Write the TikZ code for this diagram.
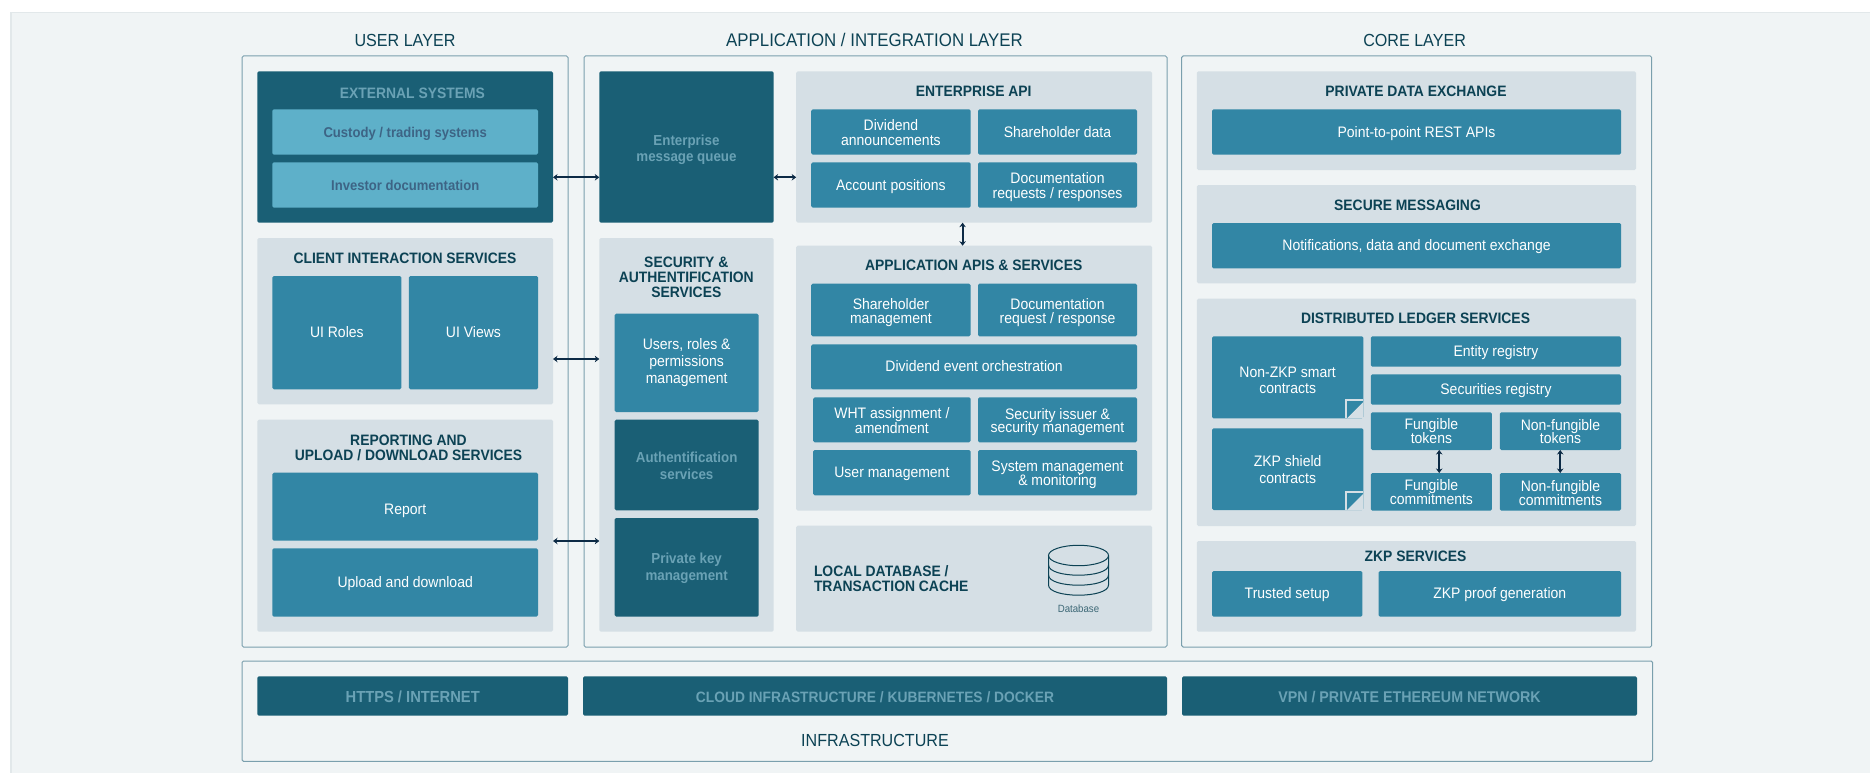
\documentclass[tikz,border=0pt]{standalone}
\usepackage{fontspec}
\setmainfont[FakeStretch=0.92]{Liberation Sans}
\usetikzlibrary{arrows.meta}
\definecolor{panelbg}{HTML}{F0F4F5}
\definecolor{panelline}{HTML}{E2E8EA}
\definecolor{layerline}{HTML}{7A9FAD}
\definecolor{groupgrey}{HTML}{D5DFE5}
\definecolor{midteal}{HTML}{3286A5}
\definecolor{darkteal}{HTML}{1A5F75}
\definecolor{lightteal}{HTML}{5EB0C9}
\definecolor{titleink}{HTML}{0C4254}
\definecolor{dimink}{HTML}{6AA2B5}
\definecolor{custink}{HTML}{3D6485}
\definecolor{arrowink}{HTML}{0C2A45}
\newcommand{\ls}[2]{\fontsize{#1}{#2}\selectfont\lineskiplimit=-100pt\relax}
\newcommand{\fl}[1]{\rule{0pt}{#1}}
\tikzset{
  x=1pt,y=-1pt,
  struts/.style={execute at begin node={\rule{0pt}{\dimexpr.74em+2pt\relax}},execute at end node={\rule[-.21em]{0pt}{.21em}}},
  lift/.style={execute at begin node={\rule{0pt}{#1}}},
  basebox/.style={rectangle,inner sep=0pt,outer sep=0pt,rounded corners=1.5pt,align=center,struts},
  layerbox/.style={basebox,draw=layerline,line width=1pt,fill=panelbg},
  groupbox/.style={basebox,fill=groupgrey},
  midbox/.style={basebox,fill=midteal,text=white,font=\ls{15.2}{15.2}},
  darkbox/.style={basebox,fill=darkteal,text=dimink,font=\bfseries\ls{14.5}{17},lift=14.7pt},
  lightbox/.style={basebox,fill=lightteal,text=custink,font=\bfseries\ls{14.2}{16},lift=14.5pt},
  barbox/.style={basebox,fill=darkteal,text=dimink,font=\bfseries\ls{16}{18},lift=16.8pt},
  titletext/.style={inner sep=0pt,outer sep=0pt,align=center,struts,yshift=-.5pt,text=titleink,font=\bfseries\ls{15.1}{15}},
  layertext/.style={inner sep=0pt,outer sep=0pt,align=center,struts,yshift=-.7pt,text=titleink,font=\ls{17.5}{20}},
  dblink/.style={{Stealth[length=4.5pt,width=6.5pt]}-{Stealth[length=4.5pt,width=6.5pt]},line width=2.2pt,draw=arrowink},
  foldmark/.style={draw=groupgrey,line width=2pt},
  dbline/.style={draw=titleink,line width=1pt},
}
\newcommand{\bx}[7]{\node[#2,minimum width={(#5-#3)*1pt},minimum height={(#6-#4)*1pt}] (#1) at ({(#3+#5)/2},{(#4+#6)/2}) {#7};}
\newcommand{\foldcorner}[1]{%
  \fill[groupgrey] (#1.south east) -- ++(-16.3,0) -- ++(16.3,-16.3) -- cycle;
  \draw[foldmark] ([xshift=-17.3pt]#1.south east) -- ++(0,-18.3) -- ++(17.3,0);}
\begin{document}
\begin{tikzpicture}
\useasboundingbox (0,0) rectangle (1870,773);
\fill[white] (0,0) rectangle (1870,773);
\path[fill=panelbg,draw=panelline,line width=1.5pt] (11,12.5) -- (1875,12.5) -- (1875,780) -- (11,780) -- cycle;

% layer frames
\bx{userlayer}{layerbox}{242}{56}{568}{647}{}
\bx{applayer}{layerbox}{584}{56}{1167}{647}{}
\bx{corelayer}{layerbox}{1181.6}{56}{1651.7}{647}{}
\bx{infralayer}{layerbox}{242}{661}{1652.6}{761.3}{}
\node[layertext] (tuser) at (405,40) {USER LAYER};
\node[layertext,font=\ls{18.3}{20}] (tapp) at (874.5,40) {APPLICATION / INTEGRATION LAYER};
\node[layertext] (tcore) at (1414.6,40) {CORE LAYER};
\node[layertext] (tinfra) at (875,739.7) {INFRASTRUCTURE};

% infrastructure
\bx{https}{barbox}{257.4}{676.3}{568}{715.7}{HTTPS / INTERNET}
\bx{cloud}{barbox,font=\bfseries\ls{15}{18}}{583}{676.3}{1167}{715.7}{CLOUD INFRASTRUCTURE / KUBERNETES / DOCKER}
\bx{vpn}{barbox,font=\bfseries\ls{15.5}{18}}{1182}{676.3}{1637}{715.7}{VPN / PRIVATE ETHEREUM NETWORK}

% user layer
\bx{external}{darkbox}{257.4}{71.3}{553}{222.7}{}
\node[titletext,text=dimink] (texternal) at (412.4,92.7) {EXTERNAL SYSTEMS};
\bx{custody}{lightbox}{272.4}{109.3}{538}{154.7}{Custody / trading systems}
\bx{investor}{lightbox}{272.4}{162.3}{538}{207.7}{Investor documentation}
\bx{client}{groupbox}{257.4}{238}{553}{404.3}{}
\node[titletext] (tclient) at (405,257.7) {CLIENT INTERACTION SERVICES};
\bx{uiroles}{midbox}{272.4}{276}{401.3}{389.3}{UI Roles}
\bx{uiviews}{midbox}{408.9}{276}{538}{389.3}{UI Views}
\bx{reporting}{groupbox}{257.4}{419.7}{553}{631.7}{}
\node[titletext] (treporting) at (408.5,448.4) {REPORTING AND\\UPLOAD / DOWNLOAD SERVICES};
\bx{report}{midbox,lift=18.4pt}{272.4}{472.7}{538}{540.7}{Report}
\bx{upload}{midbox}{272.4}{548.3}{538}{616.7}{Upload and download}

% application layer
\bx{queue}{darkbox,font=\bfseries\ls{14.5}{16.3}}{599.3}{71.3}{773.6}{222.7}{\fl{15.7pt}Enterprise\\message queue}
\bx{security}{groupbox}{599.3}{238}{773.6}{631.7}{}
\node[titletext] (tsecurity) at (686.3,277.9) {SECURITY \&\\AUTHENTIFICATION\\SERVICES};
\bx{users}{midbox,font=\ls{15.2}{17}}{614.7}{313.7}{758.6}{412}{Users, roles \&\\permissions\\management}
\bx{auth}{darkbox}{614.7}{419.7}{758.6}{510.3}{\fl{15.7pt}Authentification\\services}
\bx{pkey}{darkbox}{614.7}{518}{758.6}{616.7}{\fl{13pt}Private key\\management}

\bx{entapi}{groupbox}{796.2}{71.3}{1152}{222.7}{}
\node[titletext] (tentapi) at (973.7,90.7) {ENTERPRISE API};
\bx{divann}{midbox}{811.2}{109.3}{970.6}{154.7}{\fl{14.5pt}Dividend\\announcements}
\bx{shdata}{midbox}{978}{109.3}{1137}{154.7}{Shareholder data}
\bx{acct}{midbox}{811.2}{162.3}{970.6}{207.7}{Account positions}
\bx{docreq}{midbox}{978}{162.3}{1137}{207.7}{\fl{14.5pt}Documentation\\requests / responses}

\bx{appapi}{groupbox}{796.2}{245.7}{1152}{510.7}{}
\node[titletext] (tappapi) at (973.7,264.7) {APPLICATION APIS \& SERVICES};
\bx{shmgmt}{midbox,font=\ls{15.2}{14.3}}{811.2}{283.7}{970.6}{336.3}{\fl{15.7pt}Shareholder\\management}
\bx{docresp}{midbox,font=\ls{15.2}{14.3}}{978}{283.7}{1137}{336.3}{\fl{15.7pt}Documentation\\request / response}
\bx{divevent}{midbox}{811.2}{344.3}{1137}{389.3}{Dividend event orchestration}
\bx{wht}{midbox,font=\ls{15.2}{14.3}}{813.2}{397.3}{970.6}{442.3}{\fl{15.7pt}WHT assignment /\\amendment}
\bx{secissuer}{midbox,font=\ls{15.2}{13.2}}{978}{397.3}{1137}{442.3}{\fl{15.7pt}Security issuer \&\\security management}
\bx{usermgmt}{midbox}{813.2}{450}{970.6}{495.3}{User management}
\bx{sysmgmt}{midbox,font=\ls{15.2}{13.4}}{978}{450}{1137}{495.3}{\fl{14.5pt}System management\\\& monitoring}

\bx{localdb}{groupbox}{796.2}{525.7}{1152}{631.7}{}
\node[titletext,anchor=west,align=left] (tlocaldb) at (814,579.3) {LOCAL DATABASE /\\TRANSACTION CACHE};
\draw[dbline] (1078.5,555.5) ellipse [x radius=30,y radius=10.2];
\draw[dbline] (1048.5,555.5) -- (1048.5,585) .. controls (1048.5,598.6) and (1108.5,598.6) .. (1108.5,585) -- (1108.5,555.5);
\draw[dbline] (1048.5,565) .. controls (1048.5,578.6) and (1108.5,578.6) .. (1108.5,565);
\draw[dbline] (1048.5,575) .. controls (1048.5,588.6) and (1108.5,588.6) .. (1108.5,575);
\node[inner sep=0pt,struts,text=titleink!80,font=\ls{10.5}{12}] (dblabel) at (1078.5,608.7) {Database};

% core layer
\bx{pde}{groupbox}{1196.8}{71.3}{1636}{170}{}
\node[titletext] (tpde) at (1416,90.7) {PRIVATE DATA EXCHANGE};
\bx{rest}{midbox}{1212}{109.3}{1621}{154.7}{Point-to-point REST APIs}
\bx{secmsg}{groupbox}{1196.8}{185}{1636}{283.3}{}
\node[titletext] (tsecmsg) at (1407.5,204.7) {SECURE MESSAGING};
\bx{notif}{midbox}{1212}{223}{1621}{268.3}{Notifications, data and document exchange}
\bx{dls}{groupbox}{1196.8}{298.7}{1636}{526}{}
\node[titletext] (tdls) at (1415.5,318) {DISTRIBUTED LEDGER SERVICES};
\bx{nonzkp}{midbox,font=\ls{15.2}{16.4}}{1212}{336.3}{1363.3}{418.3}{\fl{19.3pt}Non-ZKP smart\\contracts}
\foldcorner{nonzkp}
\bx{zkpshield}{midbox,font=\ls{15.2}{17.3}}{1212}{428.3}{1363.3}{510}{\fl{14.5pt}ZKP shield\\contracts}
\foldcorner{zkpshield}
\bx{entity}{midbox}{1370.9}{336.3}{1621}{366.7}{Entity registry}
\bx{secreg}{midbox}{1370.9}{374.3}{1621}{404.7}{Securities registry}
\bx{ftok}{midbox,font=\ls{15.2}{14}}{1370.9}{412.3}{1491.9}{450}{\fl{14.5pt}Fungible\\tokens}
\bx{nftok}{midbox,font=\ls{15.2}{13.5}}{1499.9}{412.3}{1621}{450}{\fl{14.5pt}Non-fungible\\tokens}
\bx{fcom}{midbox,font=\ls{15.2}{14}}{1370.9}{473}{1491.9}{510.7}{\fl{14.5pt}Fungible\\commitments}
\bx{nfcom}{midbox,font=\ls{15.2}{14}}{1499.9}{473}{1621}{510.7}{\fl{15.7pt}Non-fungible\\commitments}
\bx{zkpsvc}{groupbox}{1196.8}{541}{1636}{631.7}{}
\node[titletext] (tzkpsvc) at (1415.5,555.7) {ZKP SERVICES};
\bx{trusted}{midbox}{1212}{571}{1362.4}{616.7}{Trusted setup}
\bx{proof}{midbox}{1378.5}{571}{1621}{616.7}{ZKP proof generation}

% connectors
\coordinate (ya) at (0,177.3);
\coordinate (yb) at (0,359);
\coordinate (yc) at (0,541);
\coordinate (xa) at (962.6,0);
\coordinate (xb) at (1439.2,0);
\coordinate (xc) at (1560.2,0);
\draw[dblink] (external.east |- ya) -- (queue.west |- ya);
\draw[dblink] (client.east |- yb) -- (security.west |- yb);
\draw[dblink] (reporting.east |- yc) -- (security.west |- yc);
\draw[dblink] (queue.east |- ya) -- (entapi.west |- ya);
\draw[dblink] (entapi.south -| xa) -- (appapi.north -| xa);
\draw[dblink] (ftok.south -| xb) -- (fcom.north -| xb);
\draw[dblink] (nftok.south -| xc) -- (nfcom.north -| xc);
\end{tikzpicture}
\end{document}
